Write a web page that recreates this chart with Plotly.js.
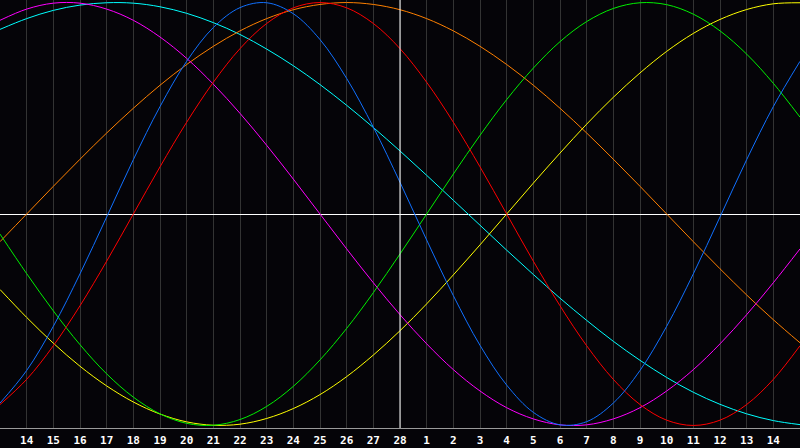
<!DOCTYPE html>
<html>
<head>
<meta charset="utf-8">
<script src="https://cdn.plot.ly/plotly-3.0.1.min.js"></script>
<style>
  html, body { margin: 0; padding: 0; background: #050408; }
  #chart { width: 800px; height: 448px; }
</style>
</head>
<body>
<div id="chart"></div>
<script>
// day labels under the grid (index 1..29), day 0 is the left edge
let dayLabels = ['14', '15', '16', '17', '18', '19', '20', '21', '22', '23', '24', '25', '26', '27', '28',
    '1', '2', '3', '4', '5', '6', '7', '8', '9', '10', '11', '12', '13', '14'];
let todayIndex = 15;

// values, one per day (index 0..30)
let physical = [-0.894, -0.740, -0.531, -0.283, -0.014, 0.257, 0.508, 0.722, 0.882, 0.976, 0.999,
    0.947, 0.825, 0.641, 0.411, 0.150, -0.123, -0.386, -0.621, -0.809, -0.938,
    -0.997, -0.982, -0.894, -0.740, -0.531, -0.283, -0.014, 0.257, 0.508, 0.722];
let emotional = [-0.901, -0.782, -0.623, -0.434, -0.223, 0, 0.223, 0.434, 0.623, 0.782, 0.901,
    0.975, 1, 0.975, 0.901, 0.782, 0.623, 0.434, 0.223, 0, -0.223,
    -0.434, -0.623, -0.782, -0.901, -0.975, -1, -0.975, -0.901, -0.782, -0.623];
let intellectual = [-0.095, -0.282, -0.458, -0.618, -0.756, -0.866, -0.945, -0.990, -0.999, -0.972, -0.910,
    -0.815, -0.690, -0.541, -0.372, -0.189, 0, 0.189, 0.372, 0.541, 0.690,
    0.815, 0.910, 0.972, 0.999, 0.990, 0.945, 0.866, 0.756, 0.618, 0.458];
let intuitive = [0.916, 0.969, 0.997, 0.997, 0.969, 0.916, 0.837, 0.736, 0.614, 0.476, 0.325,
    0.165, 0, -0.165, -0.325, -0.476, -0.614, -0.736, -0.837, -0.916, -0.969,
    -0.997, -0.997, -0.969, -0.916, -0.837, -0.736, -0.614, -0.476, -0.325, -0.165];
let aesthetic = [-0.357, -0.489, -0.611, -0.720, -0.813, -0.889, -0.946, -0.983, -0.999, -0.994, -0.967,
    -0.920, -0.854, -0.769, -0.667, -0.552, -0.425, -0.288, -0.146, 0, 0.146,
    0.288, 0.425, 0.552, 0.667, 0.769, 0.854, 0.920, 0.967, 0.994, 0.999];
let awareness = [-0.131, 0, 0.131, 0.259, 0.383, 0.5, 0.609, 0.707, 0.793, 0.866, 0.924,
    0.966, 0.991, 1, 0.991, 0.966, 0.924, 0.866, 0.793, 0.707, 0.609,
    0.5, 0.383, 0.259, 0.131, 0, -0.131, -0.259, -0.383, -0.5, -0.609];
let spiritual = [0.873, 0.924, 0.963, 0.988, 0.999, 0.997, 0.980, 0.949, 0.905, 0.849, 0.780,
    0.701, 0.612, 0.514, 0.409, 0.298, 0.183, 0.065, -0.053, -0.171, -0.286,
    -0.398, -0.503, -0.602, -0.692, -0.773, -0.843, -0.900, -0.945, -0.977, -0.996];

let days = [];
for (let i = 0; i < physical.length; i++) {
    days.push(i);
}

function curve(values, color, name) {
    return {
        type: 'scatter',
        mode: 'lines',
        name: name,
        x: days,
        y: values,
        line: {color: color, width: 1, shape: 'spline', smoothing: 1}
    };
}

let data = [
    curve(spiritual, '#00ffff', 'spiritual'),
    curve(awareness, '#ff8000', 'awareness'),
    curve(aesthetic, '#ffff00', 'aesthetic'),
    curve(intuitive, '#ff00ff', 'intuitive'),
    curve(intellectual, '#00f000', 'intellectual'),
    curve(emotional, '#ff0000', 'emotional'),
    curve(physical, '#1070ff', 'physical')
];

let tickvals = dayLabels.map((t, i) => i + 1);

let layout = {
    width: 800,
    height: 448,
    margin: {l: 0, r: 0, t: 0, b: 20, pad: 0},
    paper_bgcolor: '#050408',
    plot_bgcolor: '#050408',
    showlegend: false,
    xaxis: {
        range: [0, 30],
        tickvals: tickvals,
        ticktext: dayLabels,
        showgrid: true,
        gridcolor: '#333333',
        gridwidth: 1,
        zeroline: false,
        showline: true,
        linecolor: '#9a9a9a',
        linewidth: 1,
        mirror: true,
        ticks: '',
        ticklabelstandoff: 2,
        tickfont: {family: 'DejaVu Sans Mono', size: 11, color: '#ffffff', weight: 'bold'},
        fixedrange: true
    },
    yaxis: {
        range: [-1.012, 1.012],
        showgrid: false,
        showticklabels: false,
        zeroline: true,
        zerolinecolor: '#ffffff',
        zerolinewidth: 1,
        showline: true,
        linecolor: '#9a9a9a',
        linewidth: 1,
        ticks: '',
        fixedrange: true
    },
    shapes: [{
        type: 'line',
        xref: 'x', yref: 'paper',
        x0: todayIndex, x1: todayIndex, y0: 0, y1: 1,
        line: {color: '#ffffff', width: 1},
        layer: 'above'
    }]
};

Plotly.newPlot('chart', data, layout, {displayModeBar: false, staticPlot: true});
</script>
</body>
</html>
